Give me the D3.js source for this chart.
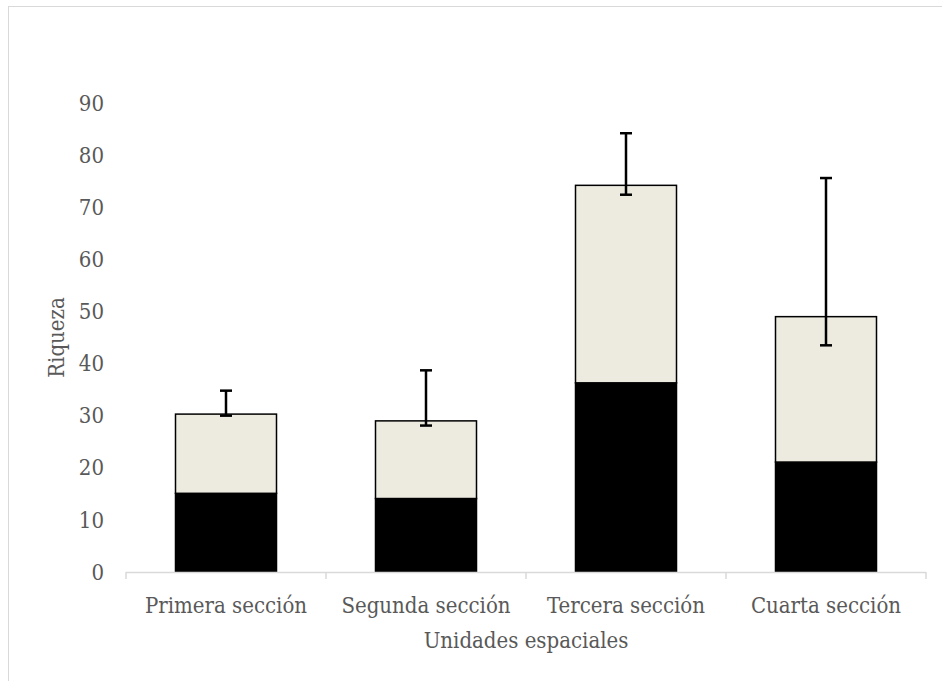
<!DOCTYPE html>
<html>
<head>
<meta charset="utf-8">
<script src="https://cdn.jsdelivr.net/npm/d3@7"></script>
<style>
  body { margin: 0; background: #fff; }
  svg text { font-family: "DejaVu Serif Condensed", "DejaVu Serif", serif; fill: #595959; }
</style>
</head>
<body>
<div id="chart"></div>
<script>
// data
const categories = ['Primera sección', 'Segunda sección', 'Tercera sección', 'Cuarta sección'];
const lowerValues = [15.1, 14.1, 36.3, 21.1];   // black part
const upperValues = [15.2, 14.9, 37.9, 27.9];   // light part on top
const errHigh = [34.8, 38.7, 84.2, 75.6];
const errLow = [30.0, 28.1, 72.4, 43.5];
const yTicks = [0, 10, 20, 30, 40, 50, 60, 70, 80, 90];

const svgWidth = 942, svgHeight = 681;
const margin = {top: 103, right: 16, bottom: 109, left: 126};
const fontSize = '22px';

const svg = d3.select('#chart').append('svg')
    .attr('width', svgWidth)
    .attr('height', svgHeight);

// outer chart frame
svg.append('rect')
    .attr('x', 8.5).attr('y', 6.5)
    .attr('width', 960).attr('height', 700)
    .attr('fill', 'none')
    .attr('stroke', '#d9d9d9')
    .attr('stroke-width', 1);

const x = d3.scaleBand()
    .domain(categories)
    .range([margin.left, svgWidth - margin.right])
    .paddingInner(0.495)
    .paddingOuter(0.2475);

const y = d3.scaleLinear()
    .domain([0, 90])
    .range([svgHeight - margin.bottom, margin.top]);

const baseY = y(0);

// y tick labels (no axis line, no gridlines)
svg.append('g')
    .selectAll('text')
    .data(yTicks)
    .join('text')
    .attr('x', 104)
    .attr('y', d => y(d))
    .attr('dy', '0.35em')
    .attr('text-anchor', 'end')
    .style('font-size', fontSize)
    .text(d => d);

// stacked bars
const stackData = categories.map((c, i) => ({cat: c, lower: lowerValues[i], upper: upperValues[i]}));
const series = d3.stack().keys(['lower', 'upper'])(stackData);
const fills = {lower: '#000000', upper: '#edebe0'};

svg.append('g')
    .selectAll('g')
    .data(series)
    .join('g')
    .attr('fill', d => fills[d.key])
    .selectAll('rect')
    .data(d => d)
    .join('rect')
    .attr('x', d => x(d.data.cat))
    .attr('y', d => y(d[1]))
    .attr('width', x.bandwidth())
    .attr('height', d => y(d[0]) - y(d[1]))
    .attr('stroke', '#000')
    .attr('stroke-width', 1.5);

// x axis
const xAxis = svg.append('g');
xAxis.append('line')
    .attr('x1', margin.left).attr('x2', svgWidth - margin.right)
    .attr('y1', baseY + 0.5).attr('y2', baseY + 0.5)
    .attr('stroke', '#d9d9d9').attr('stroke-width', 1.5);

const step = x.step();
const tickXs = d3.range(categories.length + 1).map(i => margin.left + i * step);
xAxis.selectAll('.tick')
    .data(tickXs)
    .join('line')
    .attr('class', 'tick')
    .attr('x1', d => d).attr('x2', d => d)
    .attr('y1', baseY).attr('y2', baseY + 7)
    .attr('stroke', '#d9d9d9').attr('stroke-width', 1.5);

xAxis.selectAll('.lbl')
    .data(categories)
    .join('text')
    .attr('class', 'lbl')
    .attr('x', d => x(d) + x.bandwidth() / 2)
    .attr('y', baseY + 41)
    .attr('text-anchor', 'middle')
    .style('font-size', fontSize)
    .text(d => d);

// error bars
const errG = svg.append('g').attr('stroke', '#000').attr('stroke-width', 2.5);
categories.forEach((c, i) => {
    const cx = x(c) + x.bandwidth() / 2;
    errG.append('line')
        .attr('x1', cx).attr('x2', cx)
        .attr('y1', y(errLow[i])).attr('y2', y(errHigh[i]));
    [errLow[i], errHigh[i]].forEach(v => {
        errG.append('line')
            .attr('x1', cx - 6).attr('x2', cx + 6)
            .attr('y1', y(v)).attr('y2', y(v));
    });
});

// axis titles
svg.append('text')
    .attr('x', (margin.left + svgWidth - margin.right) / 2)
    .attr('y', baseY + 76)
    .attr('text-anchor', 'middle')
    .style('font-size', fontSize)
    .text('Unidades espaciales');

svg.append('text')
    .attr('transform', `translate(64, ${(y(0) + y(90)) / 2}) rotate(-90)`)
    .attr('text-anchor', 'middle')
    .style('font-size', fontSize)
    .text('Riqueza');
</script>
</body>
</html>
